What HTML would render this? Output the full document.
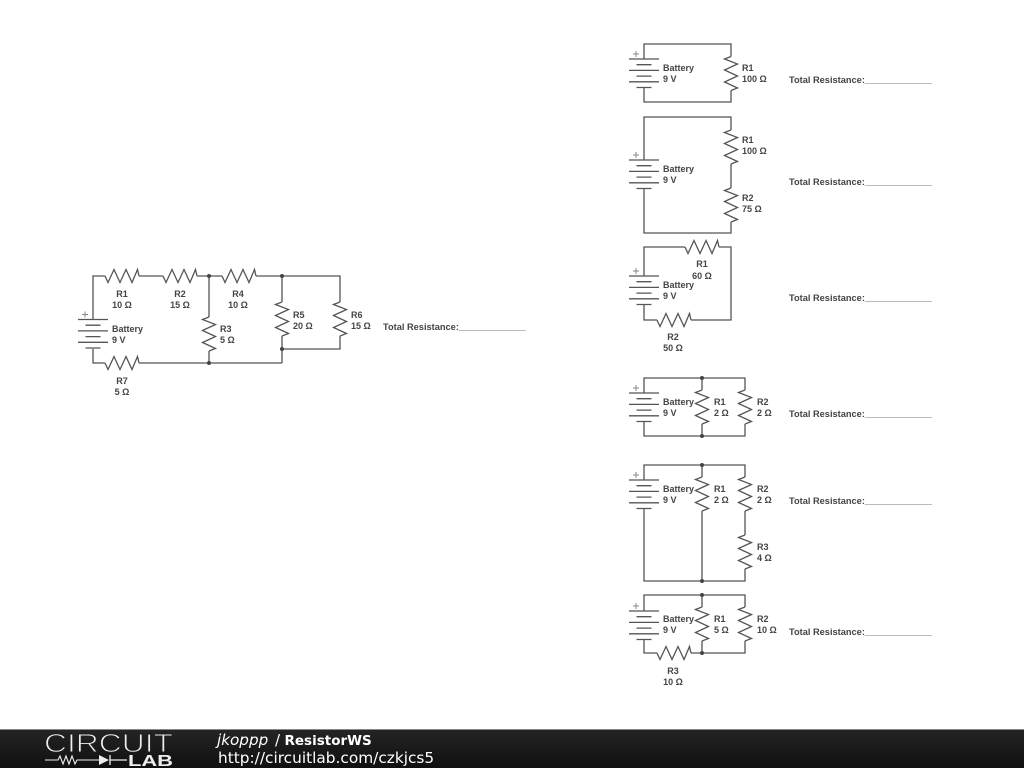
<!DOCTYPE html>
<html>
<head>
<meta charset="utf-8">
<style>
html,body{margin:0;padding:0;background:#fff;width:1024px;height:768px;overflow:hidden}
svg{display:block}
.w{fill:none;stroke:#555;stroke-width:1.3}
.p{fill:none;stroke:#888;stroke-width:1}
.t{font-family:"Liberation Sans",sans-serif;font-size:9px;font-weight:bold;fill:#444}
.l{font-size:9.25px;fill:#444}
.c{text-anchor:middle}
.d{fill:#444}
</style>
</head>
<body>
<svg width="1024" height="768" viewBox="0 0 1024 768" xmlns="http://www.w3.org/2000/svg">
<defs>
<g id="rh"><path class="w" d="M0 0L3 6.500L9 -6.500L15 6.500L21 -6.500L27 6.500L32.500 -6.500L34 0"/></g>
<g id="rv"><path class="w" d="M0 0L-6.500 2.500L6.500 7.500L-6.500 13.500L6.500 19.500L-6.500 25.500L6.500 31.500L0 34"/></g>
<g id="b"><path class="w" d="M-15 0H15M-7.500 5.700H7.500M-15 11.400H15M-7.500 17.100H7.500M-15 22.800H15M-7.500 28.500H7.500"/><path class="p" d="M-11 -5H-5M-8 -8V-2"/></g>
<linearGradient id="fg" x1="0" y1="0" x2="0" y2="1"><stop offset="0" stop-color="#252525"/><stop offset="0.5" stop-color="#1a1a1a"/><stop offset="1" stop-color="#101010"/></linearGradient>
</defs>

<!-- main circuit -->
<path class="w" d="M93 319.500V276H105M139 276H163M197 276H222M256 276H340V302M340 336V349H282M209 276V317M209 351V363M282 276V302M282 336V363M93 349V363H105M139 363H282"/>
<use href="#rh" x="105" y="276"/><use href="#rh" x="163" y="276"/><use href="#rh" x="222" y="276"/><use href="#rh" x="105" y="363"/>
<use href="#rv" x="209" y="317"/><use href="#rv" x="282" y="302"/><use href="#rv" x="340" y="302"/>
<use href="#b" x="93" y="319.500"/>
<circle class="d" cx="209" cy="276" r="2"/><circle class="d" cx="282" cy="276" r="2"/><circle class="d" cx="209" cy="363" r="2"/><circle class="d" cx="282" cy="349" r="2"/>
<text class="t" x="112" y="332">Battery</text><text class="t" x="112" y="343">9 V</text>
<text class="t c" x="122" y="297">R1</text><text class="t c" x="122" y="308">10 Ω</text>
<text class="t c" x="180" y="297">R2</text><text class="t c" x="180" y="308">15 Ω</text>
<text class="t c" x="238" y="297">R4</text><text class="t c" x="238" y="308">10 Ω</text>
<text class="t" x="220" y="332">R3</text><text class="t" x="220" y="343">5 Ω</text>
<text class="t" x="293" y="318">R5</text><text class="t" x="293" y="329">20 Ω</text>
<text class="t" x="351" y="318">R6</text><text class="t" x="351" y="329">15 Ω</text>
<text class="t c" x="122" y="384">R7</text><text class="t c" x="122" y="395">5 Ω</text>
<text class="t l" x="383" y="330">Total Resistance:_____________</text>

<!-- A -->
<path class="w" d="M644 59V44H731V56.500M731 90.500V102H644V87.500"/>
<use href="#b" x="644" y="59"/><use href="#rv" x="731" y="56.500"/>
<text class="t" x="663" y="71">Battery</text><text class="t" x="663" y="82">9 V</text>
<text class="t" x="742" y="71">R1</text><text class="t" x="742" y="82">100 Ω</text>
<text class="t l" x="789" y="83">Total Resistance:_____________</text>

<!-- B -->
<path class="w" d="M644 160V117H731V130M731 164V188M731 222V233H644V188.500"/>
<use href="#b" x="644" y="160"/><use href="#rv" x="731" y="130"/><use href="#rv" x="731" y="188"/>
<text class="t" x="663" y="172">Battery</text><text class="t" x="663" y="183">9 V</text>
<text class="t" x="742" y="143">R1</text><text class="t" x="742" y="154">100 Ω</text>
<text class="t" x="742" y="201">R2</text><text class="t" x="742" y="212">75 Ω</text>
<text class="t l" x="789" y="185">Total Resistance:_____________</text>

<!-- C -->
<path class="w" d="M644 276V247H685M719 247H731V320H691M657 320H644V304.500"/>
<use href="#b" x="644" y="276"/><use href="#rh" x="685" y="247"/><use href="#rh" x="657" y="320"/>
<text class="t" x="663" y="288">Battery</text><text class="t" x="663" y="299">9 V</text>
<text class="t c" x="702" y="267">R1</text><text class="t c" x="702" y="279">60 Ω</text>
<text class="t c" x="673" y="340">R2</text><text class="t c" x="673" y="351">50 Ω</text>
<text class="t l" x="789" y="301">Total Resistance:_____________</text>

<!-- D -->
<path class="w" d="M644 393V378H745V390M745 424V436H644V421.500M702 378V390M702 424V436"/>
<use href="#b" x="644" y="393"/><use href="#rv" x="702" y="390"/><use href="#rv" x="745" y="390"/>
<circle class="d" cx="702" cy="378" r="2"/><circle class="d" cx="702" cy="436" r="2"/>
<text class="t" x="663" y="405">Battery</text><text class="t" x="663" y="416">9 V</text>
<text class="t" x="714" y="405">R1</text><text class="t" x="714" y="416">2 Ω</text>
<text class="t" x="757" y="405">R2</text><text class="t" x="757" y="416">2 Ω</text>
<text class="t l" x="789" y="417">Total Resistance:_____________</text>

<!-- E -->
<path class="w" d="M644 480V465H745V477M745 511V535M745 569V581H644V508.500M702 465V477M702 511V581"/>
<use href="#b" x="644" y="480"/><use href="#rv" x="702" y="477"/><use href="#rv" x="745" y="477"/><use href="#rv" x="745" y="535"/>
<circle class="d" cx="702" cy="465" r="2"/><circle class="d" cx="702" cy="581" r="2"/>
<text class="t" x="663" y="492">Battery</text><text class="t" x="663" y="503">9 V</text>
<text class="t" x="714" y="492">R1</text><text class="t" x="714" y="503">2 Ω</text>
<text class="t" x="757" y="492">R2</text><text class="t" x="757" y="503">2 Ω</text>
<text class="t" x="757" y="550">R3</text><text class="t" x="757" y="561">4 Ω</text>
<text class="t l" x="789" y="504">Total Resistance:_____________</text>

<!-- F -->
<path class="w" d="M644 611V595H745V607M745 641V653H691M657 653H644V639.500M702 595V607M702 641V653"/>
<use href="#b" x="644" y="611"/><use href="#rv" x="702" y="607"/><use href="#rv" x="745" y="607"/><use href="#rh" x="657" y="653"/>
<circle class="d" cx="702" cy="595" r="2"/><circle class="d" cx="702" cy="653" r="2"/>
<text class="t" x="663" y="622">Battery</text><text class="t" x="663" y="633">9 V</text>
<text class="t" x="714" y="622">R1</text><text class="t" x="714" y="633">5 Ω</text>
<text class="t" x="757" y="622">R2</text><text class="t" x="757" y="633">10 Ω</text>
<text class="t c" x="673" y="674">R3</text><text class="t c" x="673" y="685">10 Ω</text>
<text class="t l" x="789" y="635">Total Resistance:_____________</text>

<!-- footer -->
<rect x="0" y="729" width="1024" height="39" fill="url(#fg)"/>
<rect x="0" y="729" width="1024" height="1" fill="#888"/>
<text x="44" y="752" font-family="Liberation Sans,sans-serif" font-size="26" fill="#eee" stroke="#1e1e1e" stroke-width="1" textLength="129" lengthAdjust="spacingAndGlyphs">CIRCUIT</text>
<path d="M45 760H58L60 756L63 764L66 756L69 764L72 756L75 764L77 760H99" fill="none" stroke="#eee" stroke-width="1.1"/>
<path d="M99 755V765L109 760Z" fill="#eee"/>
<path d="M110 755V765M110 760H127" fill="none" stroke="#eee" stroke-width="1.3"/>
<text x="128" y="766" font-family="Liberation Sans,sans-serif" font-size="16" font-weight="bold" fill="#eee" textLength="45" lengthAdjust="spacingAndGlyphs">LAB</text>
<text y="745" font-family="DejaVu Sans,sans-serif" fill="#fff"><tspan x="217" font-size="15.200" font-style="italic">jkoppp</tspan><tspan x="275" font-size="15">/</tspan><tspan x="284.500" font-size="13.500" font-weight="bold">ResistorWS</tspan></text>
<text x="218" y="763" font-family="DejaVu Sans,sans-serif" font-size="15.350" fill="#fff">http://circuitlab.com/czkjcs5</text>
</svg>
</body>
</html>
